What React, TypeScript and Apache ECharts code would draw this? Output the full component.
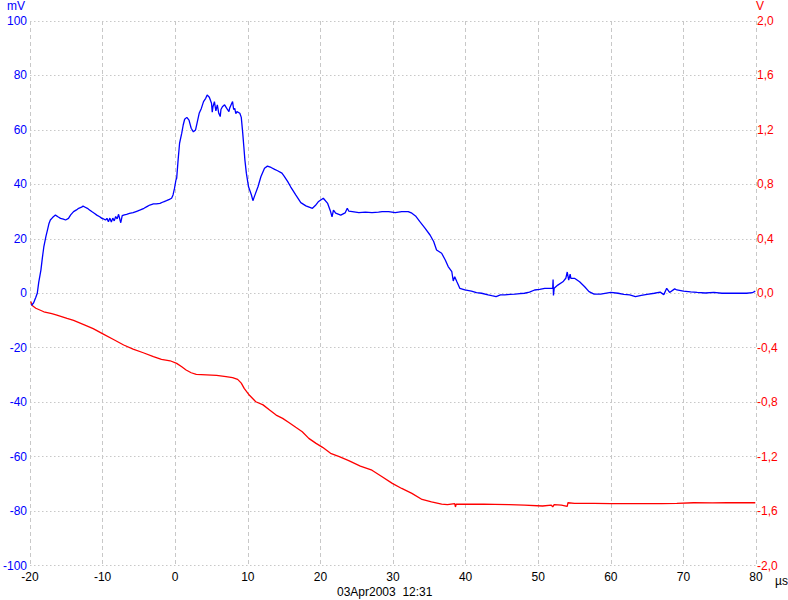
import React, { useEffect, useRef } from "react";
import * as echarts from "echarts";

const xTicks = { min: -20, max: 80, interval: 10 };
const mvTicks = { min: -100, max: 100, interval: 20 };
const vTicks = { min: -2, max: 2, interval: 0.4 };

const blueSeries: [number, number][] = [
  [-19.8, -4.5], [-19.5, -3.5], [-19.2, -1.5], [-19.0, 0], [-18.8, 4], [-18.5, 8.5], [-18.3, 13], [-18.1, 17],
  [-17.8, 21], [-17.6, 23.2], [-17.4, 25.5], [-17.2, 26.9], [-16.9, 27.8], [-16.5, 28.7], [-16.1, 28], [-15.8, 27.5],
  [-15.4, 27.2], [-15.1, 26.9], [-14.7, 27.5], [-14.4, 28.8], [-14.0, 30], [-13.6, 30.6], [-13.3, 31.2], [-12.9, 31.6],
  [-12.7, 32], [-12.4, 31.6], [-12.1, 31.2], [-11.8, 30.6], [-11.5, 30], [-11.1, 29.3], [-10.8, 28.7], [-10.4, 28.1],
  [-10.1, 27.5], [-9.8, 27.2], [-9.6, 26.9], [-9.4, 27.5], [-9.2, 26.3], [-9.0, 27.6], [-8.8, 26.2], [-8.6, 27.6],
  [-8.4, 26.6], [-8.2, 28.2], [-8.0, 27.3], [-7.8, 29.0], [-7.6, 26.9], [-7.5, 25.9], [-7.3, 28.5], [-7.0, 28.8],
  [-6.7, 29], [-6.3, 29.3], [-5.8, 29.6], [-5.3, 30.1], [-4.8, 30.6], [-4.3, 31.2], [-3.9, 31.8], [-3.5, 32.4],
  [-3.0, 32.8], [-2.6, 32.8], [-2.1, 33], [-1.6, 33.6], [-1.2, 34], [-0.8, 34.5], [-0.5, 34.9], [-0.3, 36.1],
  [-0.1, 38.5], [0.1, 41.6], [0.2, 42.2], [0.4, 49], [0.6, 55.1], [0.9, 58.8], [1.1, 61.8], [1.3, 63.9],
  [1.6, 64.6], [1.9, 63.6], [2.2, 60.6], [2.5, 59.3], [2.8, 60], [3.0, 62.4], [3.3, 66.1], [3.6, 67.9],
  [3.9, 70.4], [4.2, 71.6], [4.4, 72.8], [4.7, 72], [5.0, 69.8], [5.1, 66.5], [5.2, 68.5], [5.4, 70.4],
  [5.6, 67], [5.8, 69.2], [6.0, 66.1], [6.2, 64.9], [6.3, 67.5], [6.5, 68.5], [6.8, 69.2], [7.1, 67.9],
  [7.4, 66.7], [7.5, 68], [7.7, 69.2], [7.9, 70.4], [8.05, 67.5], [8.2, 67.9], [8.35, 66], [8.5, 66.7],
  [8.9, 66.1], [9.1, 64.6], [9.3, 58.8], [9.45, 53.9], [9.6, 48.9], [9.8, 44.1], [10.1, 39.1], [10.5, 36.1],
  [10.7, 34], [10.9, 35.5], [11.4, 39.1], [11.8, 42.8], [12.3, 45.9], [12.7, 46.7], [13.2, 46.2], [13.7, 45.5],
  [14.1, 45], [14.7, 44.1], [15.0, 43], [15.5, 41], [15.9, 39.1], [16.6, 36.1], [17.3, 33.3], [18.0, 32.1],
  [18.9, 31.2], [19.3, 32.2], [19.7, 33.6], [20.4, 34.9], [21.0, 33], [21.4, 30], [21.6, 28.1], [21.8, 30.5],
  [22.1, 29.4], [22.8, 28.7], [23.4, 29.5], [23.7, 31.2], [23.9, 30.2], [24.4, 30], [25.3, 29.6], [26.2, 29.8],
  [27.1, 29.6], [28.0, 29.8], [28.5, 30], [29.4, 30], [30.3, 29.6], [31.2, 30], [32.1, 30], [32.6, 29.4],
  [33.1, 28.4], [33.7, 26.3], [34.4, 23.9], [35.1, 21.4], [35.6, 19], [36.0, 15.9], [36.7, 14.7], [37.2, 12.2],
  [37.6, 9.8], [38.1, 7.9], [38.3, 4.5], [38.5, 6.1], [38.8, 4.2], [39.2, 1.8], [39.9, 1.2], [40.8, 0.8],
  [41.5, 0.2], [42.2, 0], [43.1, -0.6], [43.6, -0.9], [44.2, -1.2], [44.8, -0.6], [45.4, -0.6], [46.1, -0.4],
  [46.8, -0.3], [47.5, -0.1], [48.1, 0], [48.8, 0.4], [49.5, 1.2], [50.2, 1.4], [50.9, 1.8], [51.5, 1.8],
  [52.0, 1.8], [52.05, 5], [52.1, -0.8], [52.2, 1.8], [52.7, 3], [53.4, 4.2], [53.8, 5.5], [54.0, 7.8],
  [54.2, 4.8], [54.4, 7], [54.5, 5.5], [55.0, 5.5], [55.7, 4.2], [56.4, 2.4], [57.0, 0.6], [57.7, -0.3],
  [58.6, -0.3], [60.0, 0.3], [61.0, 0.0], [61.8, -0.4], [62.6, -0.6], [63.4, -1.2], [64.2, -0.8], [65.0, -0.4],
  [66.0, 0], [66.8, 0.4], [67.3, -0.5], [67.7, 1.8], [68.1, 0.3], [68.8, 1.6], [69.1, 1.2], [70.0, 0.8],
  [71.0, 0.5], [71.9, 0.3], [73.0, 0.1], [74.2, 0.3], [75.3, 0], [76.4, 0], [77.5, 0], [78.7, 0],
  [79.5, 0.2], [79.9, 0.8],
];

const redSeries: [number, number][] = [
  [-19.9, -0.06], [-19.7, -0.09], [-19.2, -0.11], [-18.1, -0.136], [-17.0, -0.15], [-16.3, -0.16], [-14.9, -0.185],
  [-14.0, -0.2], [-12.6, -0.23], [-11.3, -0.26], [-9.9, -0.3], [-8.5, -0.34], [-7.1, -0.38], [-5.8, -0.41],
  [-4.4, -0.437], [-3.0, -0.466], [-1.9, -0.486], [-0.7, -0.496], [0.2, -0.515], [0.9, -0.54], [1.5, -0.564],
  [2.2, -0.584], [2.9, -0.596], [4.3, -0.599], [5.7, -0.603], [7.0, -0.613], [7.9, -0.62], [8.6, -0.633],
  [9.1, -0.66], [9.5, -0.699], [10.2, -0.748], [11.1, -0.797], [12.1, -0.82], [13.0, -0.858], [13.9, -0.895],
  [14.8, -0.919], [15.7, -0.951], [16.6, -0.985], [17.5, -1.018], [18.4, -1.066], [19.4, -1.103], [20.3, -1.132],
  [21.4, -1.176], [22.6, -1.2], [23.9, -1.23], [25.5, -1.27], [27.1, -1.3], [28.5, -1.348], [29.9, -1.397],
  [31.2, -1.434], [32.6, -1.47], [34.0, -1.515], [35.3, -1.532], [36.7, -1.549], [37.5, -1.553], [38.5, -1.546],
  [38.6, -1.57], [38.7, -1.55], [40.8, -1.549], [42.5, -1.55], [44.0, -1.551], [46.0, -1.553], [48.1, -1.556],
  [50.6, -1.563], [51.8, -1.556], [52.0, -1.57], [52.2, -1.553], [53.2, -1.556], [54.0, -1.566], [54.1, -1.539],
  [55.0, -1.544], [57.7, -1.544], [60.0, -1.545], [62.3, -1.546], [65.0, -1.545], [67.0, -1.546], [69.1, -1.544],
  [71.4, -1.539], [74.0, -1.54], [76.0, -1.539], [79.9, -1.539],
];

const leftUnit = "mV";
const rightUnit = "V";
const xUnit = "µs";
const stamp = "03Apr2003  12:31";

const FONT = "Liberation Sans, Arial, sans-serif";
const GRID = "#c8c8c8";

export default function App() {
  const ref = useRef<HTMLDivElement>(null);
  useEffect(() => {
    if (!ref.current) return;
    const chart = echarts.init(ref.current, undefined, { renderer: "svg" });
    chart.setOption({
      animation: false,
      backgroundColor: "#ffffff",
      grid: { left: 26, right: 32, top: 21, bottom: 34.5, containLabel: false },
      xAxis: {
        type: "value",
        ...xTicks,
        axisLine: { show: false },
        axisTick: { show: false },
        axisLabel: { color: "#000", fontFamily: FONT, fontSize: 12, margin: 5 },
        splitLine: { show: true, lineStyle: { color: GRID, type: [4, 3], width: 1 } },
      },
      yAxis: [
        {
          type: "value",
          ...mvTicks,
          position: "left",
          axisLine: { show: false },
          axisTick: { show: false },
          axisLabel: { color: "#0000ff", fontFamily: FONT, fontSize: 12, margin: 3 },
          splitLine: { show: true, lineStyle: { color: GRID, type: [1.5, 2.5], width: 1 } },
        },
        {
          type: "value",
          ...vTicks,
          position: "right",
          axisLine: { show: false },
          axisTick: { show: false },
          axisLabel: {
            color: "#ff0000",
            fontFamily: FONT,
            fontSize: 12,
            margin: 1,
            formatter: (v: number) => v.toFixed(1).replace(".", ","),
          },
          splitLine: { show: false },
        },
      ],
      series: [
        {
          type: "line",
          yAxisIndex: 1,
          data: redSeries,
          showSymbol: false,
          lineStyle: { color: "#ff0000", width: 1.3 },
          z: 2,
        },
        {
          type: "line",
          yAxisIndex: 0,
          data: blueSeries,
          showSymbol: false,
          lineStyle: { color: "#0000ff", width: 1.3 },
          z: 3,
        },
      ],
      graphic: [
        { type: "text", right: 788 - 25, top: 0, style: { text: leftUnit, fill: "#0000ff", font: `12px ${FONT}`, textAlign: "right" } },
        { type: "text", left: 756, top: 0, style: { text: rightUnit, fill: "#ff0000", font: `12px ${FONT}` } },
        { type: "text", left: 775, top: 575, style: { text: xUnit, fill: "#000", font: `12px ${FONT}` } },
        { type: "text", left: 337, top: 586, style: { text: stamp, fill: "#000", font: `12px ${FONT}` } },
      ],
    });
    return () => chart.dispose();
  }, []);
  return <div ref={ref} style={{ position: "fixed", left: 0, top: 0, width: 788, height: 600 }} />;
}
